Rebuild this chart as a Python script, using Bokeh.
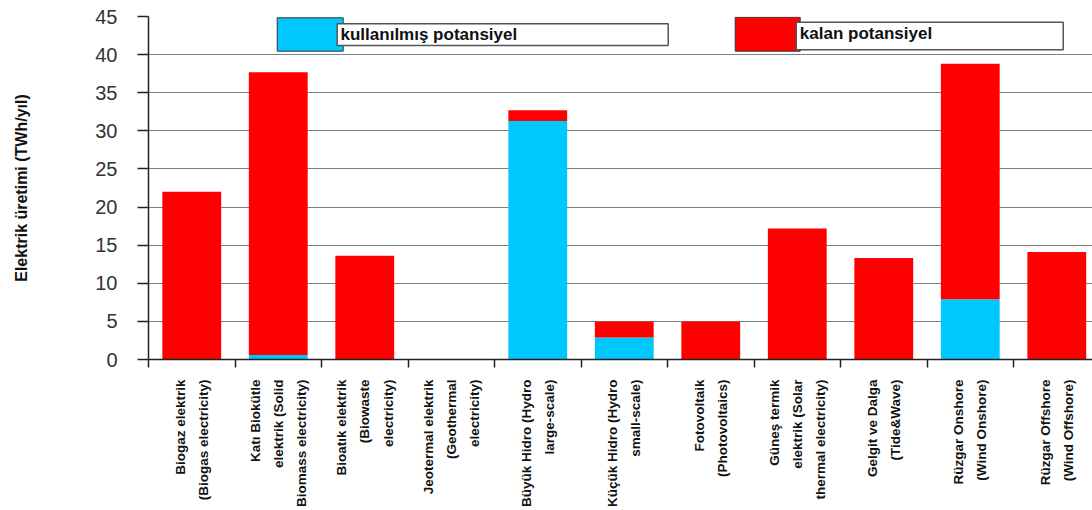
import math
from bokeh.plotting import figure
from bokeh.models import ColumnDataSource, FixedTicker, SingleIntervalTicker, Range1d
from bokeh.core.properties import value
from bokeh.embed import file_html
from bokeh.resources import INLINE

categories = [
    "Biogaz elektrik\n(Biogas electricity)",
    "Katı Biokütle\nelektrik (Solid\nBiomass electricity)",
    "Bioatık elektrik\n(Biowaste\nelectricity)",
    "Jeotermal elektrik\n(Geothermal\nelectricity)",
    "Büyük Hidro (Hydro\nlarge-scale)",
    "Küçük Hidro (Hydro\nsmall-scale)",
    "Fotovoltaik\n(Photovoltaics)",
    "Güneş termik\nelektrik (Solar\nthermal electricity)",
    "Gelgit ve Dalga\n(Tide&Wave)",
    "Rüzgar Onshore\n(Wind Onshore)",
    "Rüzgar Offshore\n(Wind Offshore)",
]
used = [0.0, 0.6, 0.0, 0.0, 31.3, 2.9, 0.0, 0.0, 0.0, 7.9, 0.0]
remaining = [22.0, 37.1, 13.6, 0.0, 1.4, 2.1, 5.0, 17.2, 13.3, 30.9, 14.1]
series_names = ["kullanılmış potansiyel", "kalan potansiyel"]
colors = ["#00C8FF", "#FF0000"]
y_ticks_interval = 5
y_max = 45

xs = [i + 0.5 for i in range(len(categories))]
source = ColumnDataSource(dict(x=xs, used=used, remaining=remaining))

FONT = "Liberation Sans"

p = figure(width=1092, height=510, output_backend="svg", toolbar_location=None,
           x_range=Range1d(0, 10.913), y_range=Range1d(0, y_max),
           min_border_left=148, min_border_right=0, min_border_top=16, min_border_bottom=151)
p.outline_line_color = None
p.background_fill_color = "white"
p.border_fill_color = "white"

p.vbar_stack(["used", "remaining"], x="x", width=0.68, source=source,
             color=colors, line_color=None)

# y axis
p.yaxis.ticker = SingleIntervalTicker(interval=y_ticks_interval, num_minor_ticks=0)
p.yaxis.major_tick_out = 11
p.yaxis.major_tick_in = 0
p.yaxis.minor_tick_out = 0
p.yaxis.minor_tick_in = 0
p.yaxis.major_label_standoff = 20
p.yaxis.major_label_text_font = FONT
p.yaxis.major_label_text_font_size = "20px"
p.yaxis.major_label_text_color = "#333333"
p.yaxis.axis_line_color = "#222222"
p.yaxis.axis_line_width = 1.5
p.yaxis.major_tick_line_color = "#222222"
p.yaxis.major_tick_line_width = 1.5
p.yaxis.axis_label = "Elektrik üretimi (TWh/yıl)"
p.yaxis.axis_label_text_font = FONT
p.yaxis.axis_label_text_font_style = "bold"
p.yaxis.axis_label_text_font_size = "16px"
p.yaxis.axis_label_text_color = "#111111"
p.yaxis.axis_label_standoff = 62

# x axis
p.xaxis.ticker = FixedTicker(ticks=xs, minor_ticks=list(range(len(categories) + 1)))
p.xaxis.major_label_overrides = {x: c for x, c in zip(xs, categories)}
p.xaxis.major_label_orientation = math.pi / 2
p.xaxis.major_tick_out = 0
p.xaxis.major_tick_in = 0
p.xaxis.minor_tick_out = 8
p.xaxis.minor_tick_in = 0
p.xaxis.minor_tick_line_color = "#222222"
p.xaxis.minor_tick_line_width = 1.5
p.xaxis.axis_line_color = "#222222"
p.xaxis.axis_line_width = 1.5
p.xaxis.major_label_standoff = 12
p.xaxis.major_label_text_font = FONT
p.xaxis.major_label_text_font_style = "bold"
p.xaxis.major_label_text_font_size = "13.5px"
p.xaxis.major_label_text_color = "#111111"
p.xaxis.major_label_text_line_height = 1.55

p.xgrid.grid_line_color = None
p.ygrid.grid_line_color = "#808080"
p.ygrid.grid_line_width = 1

# custom legend (boxed style)
p.quad(left=[1.488], right=[2.251], top=[44.83], bottom=[40.45],
       fill_color=colors[0], line_color="#333333", line_width=1)
p.quad(left=[2.181], right=[6.008], top=[44.04], bottom=[41.2],
       fill_color="white", line_color="#555555", line_width=1.5)
p.text(x=[2.22], y=[42.7], text=[series_names[0]], text_font=value(FONT),
       text_font_style="bold", text_font_size="17px", text_baseline="middle",
       text_color="#111111")

p.quad(left=[6.783], right=[7.534], top=[44.9], bottom=[40.45],
       fill_color=colors[1], line_color="#333333", line_width=1)
p.quad(left=[7.488], right=[10.575], top=[44.25], bottom=[40.63],
       fill_color="white", line_color="#555555", line_width=1.5)
p.text(x=[7.53], y=[42.8], text=[series_names[1]], text_font=value(FONT),
       text_font_style="bold", text_font_size="17px", text_baseline="middle",
       text_color="#111111")

open("out.html", "w").write(file_html(p, INLINE))
